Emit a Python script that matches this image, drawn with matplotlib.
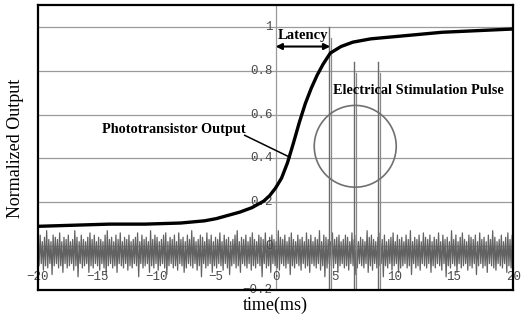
import numpy as np
import matplotlib
matplotlib.use("Agg")
import matplotlib.pyplot as plt
from matplotlib.patches import Ellipse

# phototransistor output
photo_t = [-20, -17, -14, -11, -8, -6, -5, -4, -3, -2, -1, -0.5, 0, 0.5, 1.0, 1.5,
           2.0, 2.5, 3.0, 3.5, 4.0, 4.6, 5.5, 6.5, 8, 10, 12, 14, 16, 18, 20]
photo_v = [0.09, 0.095, 0.10, 0.10, 0.105, 0.115, 0.125, 0.14, 0.155, 0.175, 0.205,
           0.23, 0.265, 0.31, 0.38, 0.47, 0.565, 0.65, 0.72, 0.78, 0.83, 0.88, 0.91,
           0.93, 0.945, 0.955, 0.965, 0.975, 0.98, 0.985, 0.99]

# stimulation channel noise, hundredths: upper and lower swings (alternate samples)
noise_hi = [3, 5, 2, 4, 7, 3, 2, 5, 4, 3, 6, 2, 4, 3, 5, 2, 3, 7, 4, 2,
            5, 3, 2, 4, 6, 3, 5, 2, 4, 3, 2, 5, 7, 3, 4, 2, 5, 3, 6, 2,
            4, 3, 5, 2, 3, 4, 6, 2, 5, 3, 4, 2, 7, 3, 5, 4, 2, 3, 5, 6,
            2, 4, 3, 5, 2, 6, 3, 4, 2, 5, 3, 7, 4, 2, 3, 5, 4, 2, 6, 3,
            5, 2, 4, 3, 6, 2, 5, 3, 4, 2, 3, 5, 7, 2, 4, 3, 5, 2, 4, 6,
            3, 2, 5, 4, 3, 6, 2, 4, 5, 3, 2, 7, 4, 3, 5, 2, 4, 6, 3, 2,
            5, 3, 4, 2, 6, 3, 5, 2, 4, 3, 7, 2, 5, 4, 3, 2, 6, 3, 4, 5,
            2, 3, 5, 4, 2, 6, 3, 5, 2, 4, 3, 2, 7, 4, 5, 3, 2, 4, 6, 3,
            5, 2, 3, 4, 6, 2, 5, 3, 4, 2, 5, 3, 7, 2, 4, 3, 5, 2, 6, 4,
            3, 5, 2, 4, 3, 6, 2, 5, 3, 4, 2, 7, 3, 5, 2, 4, 6, 3, 2, 5,
            4, 3, 5, 2, 6, 3, 4, 2, 5, 3, 7, 4, 2, 3, 5, 2, 4, 6, 3, 5]
noise_lo = [-9, -8, -11, -9, -10, -8, -13, -9, -8, -10, -9, -12, -8, -10, -9, -8, -11, -9, -14, -8,
            -10, -9, -8, -12, -9, -10, -8, -9, -11, -8, -10, -13, -9, -8, -10, -9, -12, -8, -9, -10,
            -8, -11, -9, -10, -8, -9, -14, -8, -10, -9, -8, -12, -9, -10, -8, -11, -9, -8, -10, -13,
            -9, -8, -10, -9, -11, -8, -9, -12, -10, -8, -9, -10, -8, -11, -9, -14, -8, -10, -9, -8,
            -12, -9, -10, -8, -9, -11, -8, -10, -13, -9, -8, -10, -9, -12, -8, -9, -10, -8, -11, -9,
            -10, -8, -9, -14, -8, -10, -9, -12, -8, -9, -10, -11, -8, -9, -10, -8, -13, -9, -10, -8,
            -9, -11, -8, -10, -9, -12, -8, -9, -10, -8, -11, -9, -14, -10, -8, -9, -10, -8, -12, -9,
            -8, -10, -9, -11, -8, -9, -13, -10, -8, -9, -10, -8, -12, -9, -11, -8, -10, -9, -8, -14,
            -9, -10, -8, -11, -9, -8, -12, -10, -9, -8, -10, -9, -13, -8, -10, -9, -11, -8, -9, -10,
            -8, -12, -9, -10, -8, -9, -11, -8, -14, -9, -10, -8, -9, -12, -8, -10, -9, -8, -11, -9,
            -10, -8, -13, -9, -8, -10, -9, -12, -8, -9, -10, -11, -8, -9, -10, -8, -12, -9, -10, -8]

# stimulation pulses
pulse_t = [4.6, 6.7, 8.7]
pulse_top = [1.0, 0.84, 0.84]
pulse_bottom = -0.2

xticks = [-20, -15, -10, -5, 0, 5, 10, 15, 20]
yticks = [-0.2, 0, 0.2, 0.4, 0.6, 0.8, 1]
ytick_labels = ["-0.2", "0", "0.2", "0.4", "0.6", "0.8", "1"]

serif = "Liberation Serif"
mono = "Liberation Mono"

fig = plt.figure(figsize=(5.24, 3.25), dpi=100)
ax = fig.add_axes([0.0725, 0.108, 0.907, 0.877])
ax.set_xlim(-20, 20)
ax.set_ylim(-0.2, 1.1)

# grid: horizontal lines and the zero axis
for y in yticks[1:]:
    ax.axhline(y, color="#9a9a9a", lw=0.9, zorder=1)
ax.axvline(0, color="#9a9a9a", lw=0.9, zorder=1)

# interleave the two swings into one dense trace
n = min(len(noise_hi), len(noise_lo))
noise = []
for a, b in zip(noise_hi[:n], noise_lo[:n]):
    noise += [a / 100.0, b / 100.0]
noise_t = np.linspace(-20, 20, len(noise))
ax.plot(noise_t, noise, color="#626262", lw=0.9, zorder=2)
for t, top in zip(pulse_t, pulse_top):
    ax.plot([t - 0.08, t - 0.08], [pulse_bottom, top], color="#6a6a6a", lw=1.0, zorder=2)
    ax.plot([t + 0.08, t + 0.08], [pulse_bottom, top - 0.05], color="#8a8a8a", lw=0.9, zorder=2)

ax.plot(photo_t, photo_v, color="black", lw=2.4, zorder=3)

# tick labels drawn on the axes like the original
for x in xticks:
    ax.text(x, -0.14, str(x).replace("-", "\u2212"), ha="center", va="center",
            family=mono, fontsize=9, color="#4a4a4a", zorder=2)
for y, lab in zip(yticks, ytick_labels):
    ax.text(-0.25, y, lab.replace("-", "\u2212"), ha="right", va="center",
            family=mono, fontsize=9, color="#4a4a4a", zorder=2)

# annotations
ax.annotate("", xy=(0, 0.91), xytext=(4.6, 0.91),
            arrowprops=dict(arrowstyle="<|-|>", color="black", lw=1.5,
                            mutation_scale=9, shrinkA=0, shrinkB=0))
ax.text(2.3, 0.96, "Latency", ha="center", va="center", family=serif,
        fontweight="bold", fontsize=10.5)
ax.text(4.8, 0.71, "Electrical Stimulation Pulse", ha="left", va="center",
        family=serif, fontweight="bold", fontsize=10.3)
ax.add_patch(Ellipse((6.7, 0.455), 6.9, 0.373, fill=False, edgecolor="#707070",
                     lw=1.2, zorder=4))
ax.text(-14.6, 0.53, "Phototransistor Output", ha="left", va="center",
        family=serif, fontweight="bold", fontsize=10.3)
ax.plot([-2.6, 1.2], [0.505, 0.405], color="black", lw=1.1, zorder=4)

ax.set_xticks([])
ax.set_yticks([])
for s in ax.spines.values():
    s.set_linewidth(1.6)
    s.set_color("black")

fig.text(0.525, 0.062, "time(ms)", ha="center", va="center", family=serif, fontsize=13)
fig.text(0.03, 0.545, "Normalized Output", ha="center", va="center", rotation=90,
         family=serif, fontsize=13)

fig.savefig("out.png", dpi=100)
